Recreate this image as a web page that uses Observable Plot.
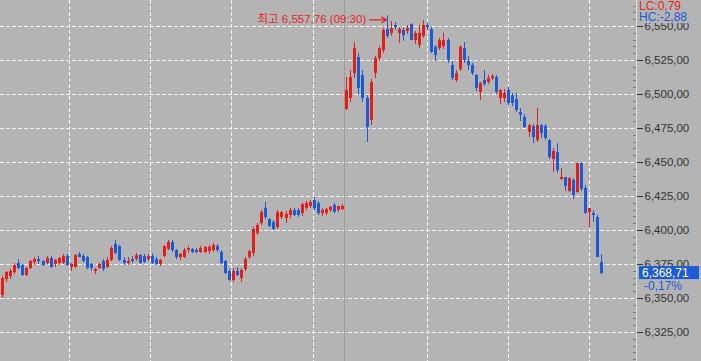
<!DOCTYPE html>
<html><head><meta charset="utf-8">
<script src="https://cdn.jsdelivr.net/npm/d3@7"></script>
<script src="https://cdn.jsdelivr.net/npm/@observablehq/plot@0.6"></script>
<style>body{margin:0;background:#b4b4b4} svg{display:block}</style>
</head><body><div id="chart"></div>
<script>
// 3-minute candles, previous session afternoon (0-84) and current morning (85-148)
const open = [6352,6364,6366,6369,6376,6374,6367,6372,6376.5,6378.5,6377,6376,6379.5,6375,6375.5,6376,6381,6373,6372.5,6382,6381,6380,6375,6369.5,6372,6377,6373,6378,6390,6388,6378,6375.5,6379,6378.5,6381.5,6381,6378.5,6381,6379,6375,6381,6386,6391,6385,6380,6380.5,6385,6386,6385.5,6384,6384,6384.5,6385,6388.5,6384,6377,6370,6363.5,6370,6365,6371,6380,6383,6398,6405,6416,6408,6406,6402,6409.5,6408.5,6411,6415,6415,6412.5,6416,6418,6422,6420,6412.5,6412.5,6414.5,6418.5,6414.5,6415.5,
6489,6496.8,6515.2,6527.4,6514,6496.8,6481,6515.2,6526.2,6532.4,6548,6544.6,6551,6544.6,6547,6546,6551.5,6540,6536,6542.6,6550.7,6547.6,6534.8,6533.6,6535,6539.7,6521.3,6510.3,6518.2,6533.6,6524,6521.3,6514,6501.7,6510,6509,6511.5,6512.7,6496.8,6496.8,6503,6499.3,6496,6487,6483.3,6472.3,6476.5,6466.2,6477.2,6476.5,6466.2,6452,6457.6,6437.3,6438.7,6429,6436.8,6428.2,6449.5,6430.7,6413.5,6412.3,6409.8,6376.7];
const high = [6366,6370,6371,6375.5,6379,6375,6373,6378,6380,6381,6378,6381,6381,6379,6380,6382,6382,6376,6382.5,6383.5,6382,6381,6376,6372,6376,6379,6380,6388,6393,6389,6380,6380,6381,6383,6382.5,6382,6382.5,6383,6380,6379,6389,6393,6393,6386,6383,6386.5,6388,6387,6387,6388,6388,6389,6390.5,6389.5,6385,6378,6371,6372,6373,6372,6380,6385.5,6402,6405,6415,6420.5,6409,6407,6414.5,6414,6414,6416,6416,6416,6419.5,6421,6422,6424.5,6421,6416,6416.5,6418,6420,6418,6419,
6512.7,6517.6,6538.5,6530,6518,6499,6511,6528,6535,6548.3,6557.76,6553.9,6553,6549,6549,6551,6552.5,6546,6551,6554.4,6552,6549,6536,6541,6544.6,6541,6524,6518,6536,6538.5,6528,6523,6515,6509,6517.6,6514,6515,6514,6504,6504,6505,6501,6501,6490,6485,6478,6478,6489.5,6478,6478,6467,6460,6463.7,6445.5,6439,6439,6438,6450,6450,6433,6416.5,6414.5,6411,6382];
const low = [6350,6362,6364,6368,6371,6366.5,6366.5,6371,6374,6375,6373.5,6375,6372,6373,6374,6375,6373.5,6369.5,6372,6380,6376.5,6371.5,6370,6367.5,6371,6369.5,6372,6377,6382,6377,6374.5,6374.5,6376,6377,6375,6376,6377,6375,6374,6373.5,6380,6385,6384,6379,6378,6379.5,6383,6383,6383,6383,6383,6382.5,6384,6384,6375,6368,6362.5,6362,6366,6362,6370,6379,6381,6396,6404,6408,6402,6400,6401,6408,6405,6409,6410,6409.5,6410,6415,6416,6415,6411,6410.5,6411,6413.5,6412.5,6413.5,6414.5,
6488,6494,6512,6500,6494,6465,6477,6512,6524,6530,6541.5,6543,6547,6537.3,6539,6544,6539.5,6537,6534,6541,6547,6530,6524.5,6532,6533,6523,6510,6508.7,6517,6523,6518,6514,6502,6495.6,6506,6507,6510,6500,6493,6494,6492,6491,6487,6480,6475,6468.2,6463.7,6465,6468,6466,6452,6442.9,6442,6436.5,6429,6428,6423,6427,6429,6412,6402,6406,6380,6368];
const close = [6365,6369,6370,6374.5,6372,6367,6372,6377,6378.5,6377.5,6374,6379.5,6373,6378,6379.5,6381,6374.5,6375,6381.5,6380.5,6377,6372,6372,6371.5,6375,6371,6378,6387,6383,6378,6376,6377.5,6377,6381.5,6376,6376.5,6381,6376,6375,6378,6388,6391.5,6385,6380.5,6382,6385,6386.5,6384,6384,6387,6387.5,6387.5,6389,6385,6375.5,6368.5,6363,6370,6367,6370.5,6379,6384.5,6401,6404,6413,6409.5,6403,6401,6413.5,6413,6412,6414.5,6411,6411,6419,6419.5,6420.5,6416.5,6412.5,6415,6415.5,6417,6413.5,6417.5,6418,
6503,6512.7,6533.6,6504.2,6496.8,6476,6509,6526.2,6533.6,6547,6543,6548.3,6549.5,6547.6,6543.4,6548.5,6540,6544.6,6545,6550.7,6548.9,6531.1,6528.7,6539.7,6539.5,6525,6511.5,6515.7,6534.8,6525,6521.3,6515.2,6504.2,6507.9,6507,6511.5,6513.3,6501.7,6502.9,6500.5,6493.2,6493.2,6488.2,6484.6,6476,6477.2,6468.6,6477.2,6471,6467.4,6453.5,6458.3,6444,6438.7,6432.4,6438,6425.7,6449.5,6430,6412.3,6416,6411,6380,6368.71];

const yTicks = [6325,6350,6375,6400,6425,6450,6475,6500,6525,6550];
const hourIdx = [16.5, 36.5, 56.5, 76.75, 105, 125, 145];   // candle index of hour grid lines
const dayBreakIdx = 84.5;
const highLabel = "최고 6,557,76 (09:30)";
const lcLabel = "LC:0,79";
const hcLabel = "HC:-2,88";
const chgLabel = "-0,17%";

const RED = "#e41f1a", BLUE = "#1c5ad6", BG = "#b4b4b4";
const data = open.map((o, i) => ({i, o, h: high[i], l: low[i], c: close[i], up: close[i] >= o}));
const ups = data.filter(d => d.up), downs = data.filter(d => !d.up);
const peak = data.reduce((a, b) => (b.h > a.h ? b : a));
const last = data[data.length - 1];

const xMin = -2 / 4.05, xMax = 634 / 4.05;
const minorTicks = d3.range(6305, 6570, 5).filter(v => !yTicks.includes(v));
const fmtTick = d => d3.format(",")(d) + ",00";

const chart = Plot.plot({
  width: 701, height: 361,
  marginLeft: 0, marginRight: 65, marginTop: 0, marginBottom: 0,
  x: {domain: [xMin, xMax], axis: null},
  y: {domain: [6303.7, 6569.1], axis: null},
  style: {background: BG, fontFamily: "'Liberation Sans', Arial, sans-serif", fontSize: "11.5px", overflow: "visible"},
  marks: [
    Plot.ruleY(yTicks, {x1: xMin, x2: xMax, stroke: "#f4f4f4", strokeDasharray: "4,2", shapeRendering: "crispEdges"}),
    Plot.ruleX(hourIdx, {stroke: "#f4f4f4", strokeDasharray: "4,2", shapeRendering: "crispEdges"}),
    Plot.ruleX([dayBreakIdx], {stroke: "#9c9c9c", shapeRendering: "crispEdges"}),
    Plot.ruleX(ups, {x: "i", y1: "l", y2: "h", stroke: RED, shapeRendering: "crispEdges"}),
    Plot.ruleX(downs, {x: "i", y1: "l", y2: "h", stroke: BLUE, shapeRendering: "crispEdges"}),
    Plot.ruleX(ups, {x: "i", y1: "o", y2: "c", stroke: RED, strokeWidth: 3, shapeRendering: "crispEdges"}),
    Plot.ruleX(downs, {x: "i", y1: "o", y2: "c", stroke: BLUE, strokeWidth: 3, shapeRendering: "crispEdges"}),
    Plot.ruleX([xMax], {stroke: "#dedede", shapeRendering: "crispEdges"}),
    Plot.ruleY(minorTicks, {x1: xMax - 3 / 4.05, x2: xMax, stroke: "#7a7a7a", shapeRendering: "crispEdges"}),
    Plot.axisY(yTicks, {anchor: "right", tickSize: 6, tickPadding: 2, tickFormat: fmtTick, color: "#333", fontSize: 11.5}),
    Plot.arrow([peak], {x1: d => d.i - 4.3, x2: d => d.i - 0.2, y1: "h", y2: "h", dy: 4, stroke: RED, strokeWidth: 1.3, headLength: 7}),
    Plot.text([peak], {x: "i", y: "h", text: () => highLabel, textAnchor: "end", dx: -21, dy: 3, fill: RED,
      fontSize: 11.5, fontFamily: "'Liberation Sans', 'Noto Sans CJK KR', sans-serif"})
  ]
});

const svg = d3.select(chart);
const y = chart.scale("y");
const xr = 636;
const FONT = "'Liberation Sans', Arial, sans-serif";
// LC / HC box at top right
svg.append("rect").attr("x", xr + 1).attr("y", 0).attr("width", 64).attr("height", 23).attr("fill", BG);
svg.append("text").attr("x", xr + 3).attr("y", 6).attr("dy", "0.35em").attr("text-anchor", "start").attr("fill", RED)
  .attr("font-size", 12).attr("font-family", FONT).text(lcLabel);
svg.append("text").attr("x", xr + 3).attr("y", 17).attr("dy", "0.35em").attr("text-anchor", "start").attr("fill", BLUE)
  .attr("font-size", 12).attr("font-family", FONT).text(hcLabel);
// current price box
const py = y.apply(last.c);
svg.append("rect").attr("x", xr + 3).attr("y", py - 6.5).attr("width", 60).attr("height", 13).attr("fill", BLUE);
svg.append("text").attr("x", xr + 6).attr("y", py).attr("dy", "0.35em").attr("text-anchor", "start").attr("fill", "#fff")
  .attr("font-size", 12).attr("font-family", FONT).text(d3.format(",.2f")(last.c).replace(".", ","));
svg.append("text").attr("x", xr + 8).attr("y", py + 13).attr("dy", "0.35em").attr("text-anchor", "start").attr("fill", BLUE)
  .attr("font-size", 12).attr("font-family", FONT).text(chgLabel);

document.getElementById("chart").append(chart);
</script></body></html>
